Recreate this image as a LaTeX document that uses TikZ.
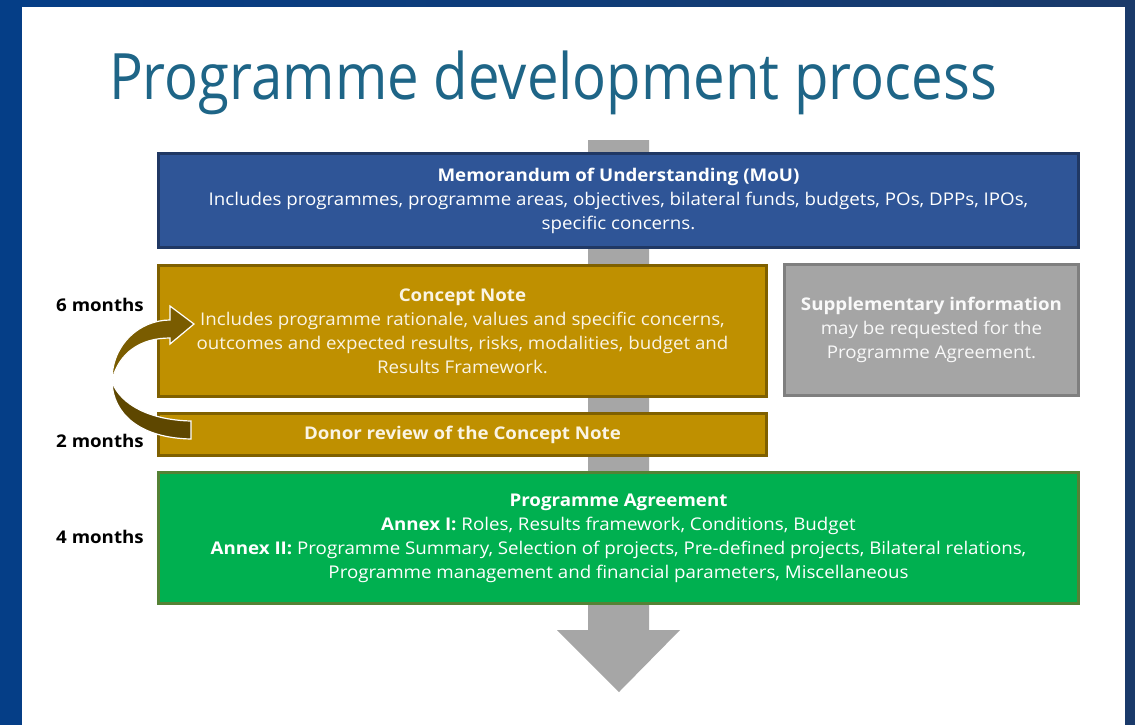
\documentclass[tikz,border=0pt]{standalone}
\usepackage{fontspec}
\setmainfont[FakeStretch=1.07]{Open Sans}
\newfontfamily\titlefont[FakeStretch=0.88]{Open Sans}
\definecolor{frameL}{RGB}{5,62,135}
\definecolor{frameR}{RGB}{26,58,106}
\definecolor{titleblue}{RGB}{30,101,135}
\definecolor{moufill}{RGB}{47,85,151}
\definecolor{moudraw}{RGB}{32,56,100}
\definecolor{goldfill}{RGB}{191,144,0}
\definecolor{golddraw}{RGB}{127,96,0}
\definecolor{grayfill}{RGB}{165,165,165}
\definecolor{graydraw}{RGB}{127,127,127}
\definecolor{greenfill}{RGB}{0,176,80}
\definecolor{greendraw}{RGB}{84,130,53}
\definecolor{shaft}{RGB}{166,166,166}
\definecolor{arrowA}{RGB}{122,92,0}
\definecolor{arrowB}{RGB}{94,71,0}
\definecolor{cream}{RGB}{250,244,228}
\tikzset{
  box/.style={rectangle, line width=3pt, inner sep=0pt, align=center, text=white,
    font=\fontsize{17.5}{24}\selectfont},
  lbl/.style={font=\fontsize{17.5}{20}\selectfont\bfseries, text=black, inner sep=0pt},
}
\begin{document}
\begin{tikzpicture}[x=1pt,y=-1pt]
\useasboundingbox (0,0) rectangle (1135,724);
\shade[left color=frameL, right color=frameR] (0,0) rectangle (1135,724);
\fill[white] (22,7) rectangle (1125,730);
% title
\node[inner sep=0pt, text=titleblue, font=\titlefont\fontsize{64}{70}\selectfont] (title) at (553,83) {Programme development process};
% central gray arrow
\fill[shaft] (588,140) -- (649,140) -- (649,630) -- (680,630) -- (619,692) -- (557,630) -- (588,630) -- cycle;
% boxes
\node[box, fill=moufill, draw=moudraw, minimum width=920, minimum height=94] (mou) at (618.5,200.5)
  {\textbf{Memorandum of Understanding (MoU)}\\Includes programmes, programme areas, objectives, bilateral funds, budgets, POs, DPPs, IPOs,\\specific concerns.};
\node[box, fill=goldfill, draw=golddraw, minimum width=608, minimum height=131, text=cream] (cn) at (462.5,331)
  {\textbf{Concept Note}\\Includes programme rationale, values and specific concerns,\\outcomes and expected results, risks, modalities, budget and\\Results Framework.};
\node[box, fill=grayfill, draw=graydraw, minimum width=294, minimum height=131, text=white!95!gray] (sup) at (931.5,330)
  {\textbf{Supplementary information}\\may be requested for the\\Programme Agreement.};
\node[box, fill=goldfill, draw=golddraw, minimum width=608, minimum height=42, text=cream] (dr) at (462.5,434.5)
  {\textbf{Donor review of the Concept Note}};
\node[box, fill=greenfill, draw=greendraw, minimum width=920, minimum height=131] (pa) at (618.5,538)
  {\textbf{Programme Agreement}\\\textbf{Annex I:} Roles, Results framework, Conditions, Budget\\\textbf{Annex II:} Programme Summary, Selection of projects, Pre-defined projects, Bilateral relations,\\Programme management and financial parameters, Miscellaneous};
% month labels
\node[lbl] (m6) at (100,305) {6 months};
\node[lbl] (m2) at (100,441) {2 months};
\node[lbl] (m4) at (100,537) {4 months};
% curved arrow (lower part)
\fill[arrowB, draw=white, line width=1.2pt] (112,382) .. controls (113,414) and (140,438) .. (191,439)
  -- (191,421) .. controls (150,420) and (121,405) .. (112,382) -- cycle;
% curved arrow (upper part)
\fill[arrowA, draw=white, line width=1.2pt, line join=miter] (112,380) .. controls (112,344) and (140,320) .. (170,320)
  -- (170,306) -- (194,324) -- (170,344) -- (170,338)
  .. controls (140,338) and (119,353) .. (112,380) -- cycle;
\end{tikzpicture}
\end{document}
